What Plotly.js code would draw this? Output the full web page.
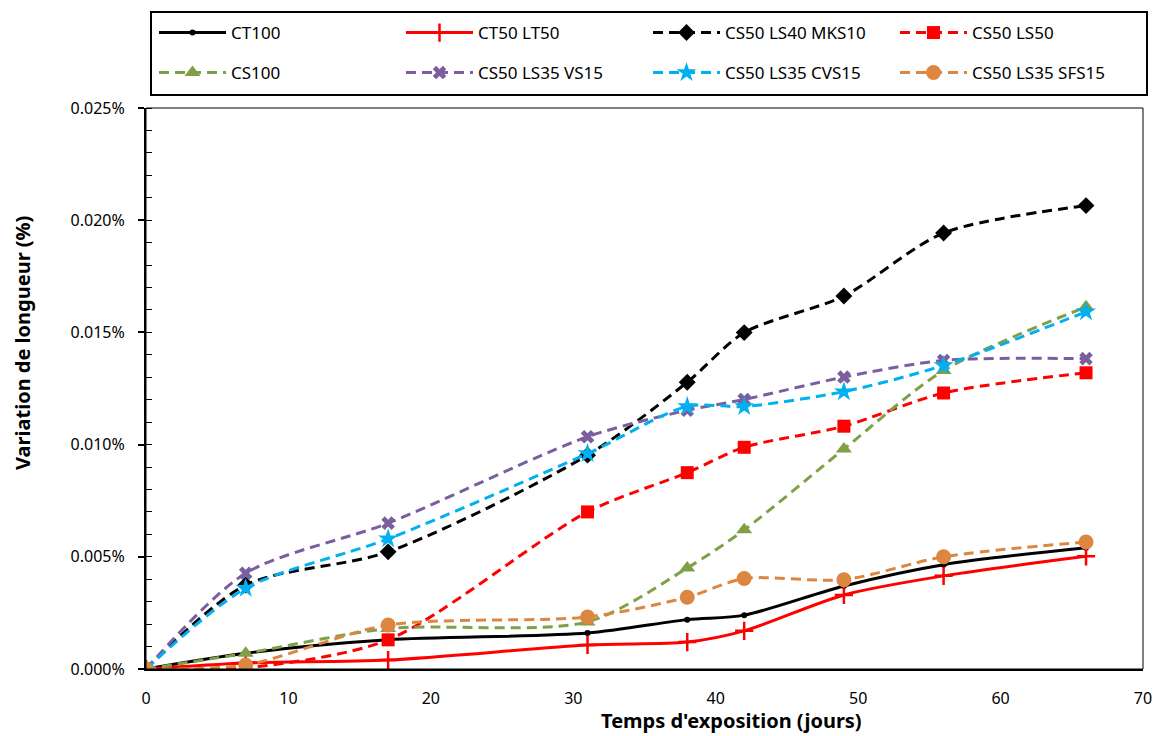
<!DOCTYPE html>
<html>
<head>
<meta charset="utf-8">
<script src="https://cdn.plot.ly/plotly-3.0.1.min.js"></script>
<style>
  html, body { margin: 0; padding: 0; background: #fff; }
  #chart { width: 1157px; height: 736px; }
</style>
</head>
<body>
<div id="chart"></div>
<script>
// Exposure time (days)
const days = [0, 7, 17, 31, 38, 42, 49, 56, 66];

// Length change (%) per mix
const ct100        = [0, 0.0007, 0.0013, 0.0016, 0.0022, 0.0024, 0.0037, 0.00465, 0.0054];
const ct50lt50     = [0, 0.00027, 0.0004, 0.00107, 0.0012, 0.0017, 0.0033, 0.00415, 0.00502];
const cs50ls40mks10 = [0, 0.00374, 0.00522, 0.00953, 0.01278, 0.01499, 0.01662, 0.01943, 0.02065];
const cs50ls50     = [0, 0.00005, 0.0013, 0.007, 0.00875, 0.00988, 0.01082, 0.0123, 0.0132];
const cs100        = [0, 0.0007, 0.0018, 0.0021, 0.0045, 0.0062, 0.0098, 0.0133, 0.01614];
const cs50ls35vs15 = [0, 0.00427, 0.0065, 0.01035, 0.01153, 0.01201, 0.01301, 0.01375, 0.01383];
const cs50ls35cvs15 = [0, 0.0036, 0.0058, 0.0096, 0.0117, 0.0117, 0.01236, 0.01353, 0.01592];
const cs50ls35sfs15 = [0, 0.00018, 0.00196, 0.00232, 0.0032, 0.00403, 0.00398, 0.005, 0.00566];

const seriesNames = [
  'CT100', 'CT50 LT50', 'CS50 LS40 MKS10', 'CS50 LS50',
  'CS100', 'CS50 LS35 VS15', 'CS50 LS35 CVS15', 'CS50 LS35 SFS15'
];
const yTickVals = [0, 0.005, 0.01, 0.015, 0.02, 0.025];
const xTickVals = [0, 10, 20, 30, 40, 50, 60, 70];

const FONT = 'Noto Sans, Open Sans, sans-serif';
const DASH = '10px,6px';

function series(y, name, color, symbol, size, dash, width, legendId, extraMarker) {
  return {
    x: days, y: y, name: name, type: 'scatter', mode: 'lines+markers',
    legend: legendId,
    line: { color: color, width: width, dash: dash, shape: 'spline', smoothing: 0.8 },
    marker: Object.assign({ color: color, symbol: symbol, size: size }, extraMarker || {}),
    hoverinfo: 'x+y+name'
  };
}

const data = [
  series(ct100, seriesNames[0], '#000000', 'circle', 6, 'solid', 3, 'legend'),
  series(ct50lt50, seriesNames[1], '#FF0000', 'cross-thin', 13, 'solid', 3, 'legend',
         { line: { color: '#FF0000', width: 2.5 } }),
  series(cs50ls40mks10, seriesNames[2], '#000000', 'diamond', 13, DASH, 3, 'legend'),
  series(cs50ls50, seriesNames[3], '#FF0000', 'square', 13, DASH, 3, 'legend'),
  series(cs100, seriesNames[4], '#7FA046', 'triangle-up', 14, DASH, 3, 'legend2'),
  series(cs50ls35vs15, seriesNames[5], '#7A5E9E', 'x', 12, DASH, 3, 'legend2'),
  series(cs50ls35cvs15, seriesNames[6], '#00B0F0', 'star', 15, DASH, 3, 'legend2'),
  series(cs50ls35sfs15, seriesNames[7], '#DD8640', 'circle', 15, DASH, 3, 'legend2')
];

// Plot area in pixels: left 146, right 1143, top 108, bottom 669
const L = 146, R = 1143, T = 108, B = 669;
const W = 1157, H = 736;
const px2x = p => (p - L) / (R - L);
const px2y = p => (B - p) / (B - T);

const legendCommon = {
  orientation: 'h', xanchor: 'left', yanchor: 'middle',
  entrywidth: 165, entrywidthmode: 'pixels', itemwidth: 67,
  bgcolor: 'rgba(0,0,0,0)', borderwidth: 0,
  font: { family: FONT, size: 17, color: '#000' },
  itemclick: false, itemdoubleclick: false
};

const layout = {
  width: W, height: H,
  margin: { l: L, r: W - R, t: T, b: H - B, pad: 0 },
  paper_bgcolor: '#ffffff', plot_bgcolor: '#ffffff',
  font: { family: FONT, size: 16, color: '#000' },
  showlegend: true,
  legend: Object.assign({ x: px2x(154), y: px2y(33) }, legendCommon),
  legend2: Object.assign({ x: px2x(154), y: px2y(73) }, legendCommon),
  xaxis: {
    range: [0, 70], tickvals: xTickVals, ticktext: xTickVals.map(String),
    showgrid: false, zeroline: false,
    showline: true, linecolor: '#000', linewidth: 1.5,
    ticks: '', ticklabelstandoff: 14,
    tickfont: { family: FONT, size: 16, color: '#000' }
  },
  yaxis: {
    range: [0, 0.025], tickvals: yTickVals,
    ticktext: yTickVals.map(v => v.toFixed(3) + '%'),
    showgrid: false, zeroline: false,
    showline: true, linecolor: '#000', linewidth: 2,
    ticks: 'outside', ticklen: 6, tickwidth: 1.5, tickcolor: '#000',
    ticklabelstandoff: 10,
    minor: { dtick: 0.001, ticks: 'inside', ticklen: 6, tickwidth: 1, tickcolor: '#000' },
    tickfont: { family: FONT, size: 16, color: '#000' }
  },
  shapes: [
    // plot frame
    { type: 'rect', xref: 'paper', yref: 'paper', x0: 0, x1: 1, y0: 0, y1: 1,
      line: { color: '#000', width: 1 }, layer: 'above' },
    // legend box
    { type: 'rect', xref: 'paper', yref: 'paper',
      x0: px2x(151), x1: px2x(1147), y0: px2y(95), y1: px2y(12),
      line: { color: '#000', width: 2 }, fillcolor: 'rgba(0,0,0,0)', layer: 'above' }
  ],
  annotations: [
    { text: "Temps d'exposition (jours)", xref: 'paper', yref: 'paper',
      x: px2x(731), y: px2y(720), xanchor: 'center', yanchor: 'middle',
      showarrow: false, font: { family: FONT, size: 20, color: '#000', weight: 'bold' } },
    { text: 'Variation de longueur (%)', xref: 'paper', yref: 'paper',
      x: px2x(22), y: px2y(343), xanchor: 'center', yanchor: 'middle', textangle: -90,
      showarrow: false, font: { family: FONT, size: 20, color: '#000', weight: 'bold' } }
  ]
};

Plotly.newPlot('chart', data, layout, { displayModeBar: false, staticPlot: false });
</script>
</body>
</html>
